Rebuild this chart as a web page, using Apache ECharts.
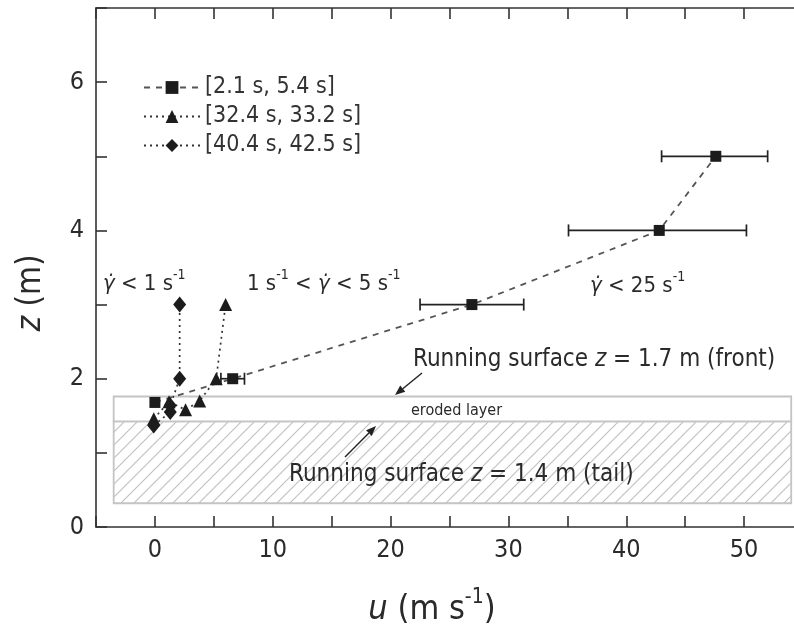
<!DOCTYPE html>
<html><head><meta charset="utf-8">
<script src="https://cdn.jsdelivr.net/npm/echarts@6/dist/echarts.min.js"></script>
<style>html,body{margin:0;padding:0;background:#fff}#c{width:794px;height:632px}</style>
</head><body><div id="c"></div>
<script>
// ---- data ----
const seriesNames = ['[2.1 s, 5.4 s]', '[32.4 s, 33.2 s]', '[40.4 s, 42.5 s]'];
const squareU = [0.0, 6.6, 26.9, 42.8, 47.6];
const squareZ = [1.68, 2.0, 3.0, 4.0, 5.0];
const squareErrLow = [null, 5.6, 22.5, 35.1, 43.0];
const squareErrHigh = [null, 7.6, 31.3, 50.2, 52.0];
const triangleU = [-0.1, 1.2, 2.6, 3.8, 5.2, 6.0];
const triangleZ = [1.46, 1.69, 1.58, 1.70, 2.0, 3.0];
const diamondU = [-0.1, 1.3, 1.3, 2.1, 2.1];
const diamondZ = [1.37, 1.55, 1.64, 2.0, 3.0];
const layerU = [-3.5, 54.0];
const baseLayerZ = [0.32, 1.425];
const erodedLayerZ = [1.425, 1.76];
const xTicks = [0, 10, 20, 30, 40, 50];
const yTicks = [0, 2, 4, 6];

const FONT = '"DejaVu Sans Condensed", "DejaVu Sans", sans-serif';
const TXT = '#2a2a2a';
const zip = (a, b) => a.map((v, i) => [v, b[i]]);

function hatchCanvas() {
  const s = 13, c = document.createElement('canvas');
  c.width = s; c.height = s;
  const g = c.getContext('2d');
  g.fillStyle = '#fff'; g.fillRect(0, 0, s, s);
  g.strokeStyle = '#c2c2c2'; g.lineWidth = 1.2;
  g.beginPath();
  g.moveTo(0, s); g.lineTo(s, 0);
  g.moveTo(-2, 2); g.lineTo(2, -2);
  g.moveTo(s - 2, s + 2); g.lineTo(s + 2, s - 2);
  g.stroke();
  return c;
}
const hatch = hatchCanvas();

function layerSeries(zr, fill) {
  return {
    type: 'custom', silent: true, z: 1,
    data: [[layerU[0], layerU[1], zr[0], zr[1]]],
    renderItem: (params, api) => {
      const p0 = api.coord([api.value(0), api.value(3)]);
      const p1 = api.coord([api.value(1), api.value(2)]);
      return { type: 'rect', shape: { x: p0[0], y: p0[1], width: p1[0] - p0[0], height: p1[1] - p0[1] },
        style: { fill: fill, stroke: '#c4c4c4', lineWidth: 1.8 } };
    }
  };
}

const errData = squareU.map((u, i) => [u, squareZ[i], squareErrLow[i], squareErrHigh[i]]).filter(d => d[2] !== null);

const axisLineStyle = { color: '#333', width: 1.6 };
const chart = echarts.init(document.getElementById('c'), null, { renderer: 'canvas' });
const option = {
  backgroundColor: '#fff',
  animation: false,
  grid: { left: 96, top: 8, width: 707, height: 519, containLabel: false, outerBoundsMode: 'none' },
  xAxis: [{
    type: 'value', min: -5, max: 55, interval: 5, position: 'bottom',
    axisLine: { show: true, onZero: false, lineStyle: axisLineStyle },
    axisTick: { show: true, inside: true, length: 11, lineStyle: axisLineStyle },
    axisLabel: { margin: 11, fontFamily: FONT, fontSize: 25, color: TXT,
      formatter: v => xTicks.includes(v) ? String(v) : '' },
    splitLine: { show: false }
  }, {
    type: 'value', min: -5, max: 55, interval: 5, position: 'top',
    axisLine: { show: true, onZero: false, lineStyle: axisLineStyle },
    axisTick: { show: true, inside: true, length: 11, lineStyle: axisLineStyle },
    axisLabel: { show: false }, splitLine: { show: false }
  }],
  yAxis: [{
    type: 'value', min: 0, max: 7, interval: 1, position: 'left',
    axisLine: { show: true, onZero: false, lineStyle: axisLineStyle },
    axisTick: { show: true, inside: true, length: 11, lineStyle: axisLineStyle },
    axisLabel: { margin: 12, fontFamily: FONT, fontSize: 25, color: TXT,
      formatter: v => yTicks.includes(v) ? String(v) : '' },
    splitLine: { show: false }
  }],
  legend: {
    orient: 'vertical', left: 138, top: 71, itemWidth: 56, itemHeight: 16, itemGap: 6,
    data: seriesNames,
    textStyle: { fontFamily: FONT, fontSize: 23, color: '#333' }
  },
  series: [
    layerSeries(baseLayerZ, { image: hatch, repeat: 'repeat' }),
    layerSeries(erodedLayerZ, '#fff'),
    {
      name: seriesNames[0], type: 'line', data: zip(squareU, squareZ), z: 5,
      symbol: 'rect', symbolSize: 11, showAllSymbol: true,
      itemStyle: { color: '#1c1c1c' },
      lineStyle: { color: '#555', width: 1.8, type: [6, 6] }
    },
    {
      name: seriesNames[1], type: 'line', data: zip(triangleU, triangleZ), z: 5,
      symbol: 'triangle', symbolSize: 13, showAllSymbol: true,
      itemStyle: { color: '#1c1c1c' },
      lineStyle: { color: '#333', width: 1.7, type: [2, 4] }
    },
    {
      name: seriesNames[2], type: 'line', data: zip(diamondU, diamondZ), z: 5,
      symbol: 'diamond', symbolSize: [13, 16], showAllSymbol: true,
      itemStyle: { color: '#1c1c1c' },
      lineStyle: { color: '#333', width: 1.7, type: [2, 4] }
    },
    {
      type: 'custom', silent: true, z: 4, data: errData,
      renderItem: (params, api) => {
        const lo = api.coord([api.value(2), api.value(1)]);
        const hi = api.coord([api.value(3), api.value(1)]);
        const st = { stroke: '#222', lineWidth: 1.7 };
        return { type: 'group', children: [
          { type: 'line', shape: { x1: lo[0], y1: lo[1], x2: hi[0], y2: hi[1] }, style: st },
          { type: 'line', shape: { x1: lo[0], y1: lo[1] - 6, x2: lo[0], y2: lo[1] + 6 }, style: st },
          { type: 'line', shape: { x1: hi[0], y1: hi[1] - 6, x2: hi[0], y2: hi[1] + 6 }, style: st }
        ] };
      }
    }
  ]
};
chart.setOption(option);

// annotations
function richFor(fs, supFs, lh) {
  return {
    g: { fontFamily: FONT, fontSize: fs, fontStyle: 'italic', fill: TXT, lineHeight: lh },
    i: { fontFamily: FONT, fontSize: fs, fontStyle: 'italic', fill: TXT, lineHeight: lh },
    sup: { fontFamily: FONT, fontSize: supFs, fill: TXT, lineHeight: supFs, verticalAlign: 'top' }
  };
}
function txt(text, x, y, fs, opts) {
  opts = opts || {};
  const lh = opts.lh || Math.round(fs * 1.2);
  return { type: 'text', x: x, y: y, z: 20, silent: true, rotation: opts.rot || 0,
    style: { text: text, font: fs + 'px ' + FONT, fill: TXT, lineHeight: lh,
      align: opts.align || 'left', verticalAlign: 'middle', rich: richFor(fs, opts.sup || Math.round(fs * 0.62), lh) } };
}
function arrow(x1, y1, x2, y2) {
  const a = Math.atan2(y2 - y1, x2 - x1), L = 10, W = 4;
  const bx = x2 - L * Math.cos(a), by = y2 - L * Math.sin(a);
  const nx = -Math.sin(a) * W, ny = Math.cos(a) * W;
  return [
    { type: 'line', z: 20, silent: true, shape: { x1: x1, y1: y1, x2: bx, y2: by }, style: { stroke: '#222', lineWidth: 1.4 } },
    { type: 'polygon', z: 20, silent: true, shape: { points: [[x2, y2], [bx + nx, by + ny], [bx - nx, by - ny]] }, style: { fill: '#222' } }
  ];
}
chart.setOption({
  graphic: [
    txt('{g|γ̇} < 1 s{sup|-1}', 103, 284, 22, { lh: 32, sup: 14 }),
    txt('1 s{sup|-1} < {g|γ̇} < 5 s{sup|-1}', 247, 284, 22, { lh: 32, sup: 14 }),
    txt('{g|γ̇} < 25 s{sup|-1}', 590, 286, 22, { lh: 32, sup: 14 }),
    txt('Running surface {i|z} = 1.7 m (front)', 413, 360, 24),
    txt('eroded layer', 411, 411, 16),
    txt('Running surface {i|z} = 1.4 m (tail)', 289, 475, 24),
    txt('{i|u} (m s{sup|-1})', 432, 610, 34, { align: 'center', lh: 46, sup: 21 }),
    txt('{i|z} (m)', 31, 293, 33, { align: 'center', rot: Math.PI / 2 }),
    ...arrow(422, 373, 395, 395),
    ...arrow(345, 457, 376, 426)
  ]
});
</script></body></html>
